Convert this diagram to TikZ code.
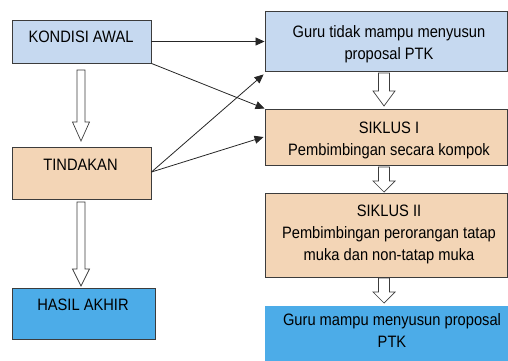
\documentclass[tikz,border=0pt]{standalone}
\usepackage{fontspec}
\setmainfont[FakeStretch=0.89]{Liberation Sans}
\usetikzlibrary{arrows.meta,calc}
\definecolor{lblue}{RGB}{198,217,240}
\definecolor{peach}{RGB}{243,213,182}
\definecolor{bblue}{RGB}{76,172,232}
\definecolor{edge}{RGB}{60,60,60}
\tikzset{
  box/.style={draw=edge,line width=0.9pt,inner sep=0pt,rectangle},
  lbl/.style={inner sep=0pt,align=center,font=\fontsize{16.5}{22}\selectfont},
  conn/.style={draw=black!85,line width=0.8pt,-{Triangle[length=9pt,width=8pt]}},
  hollow/.style={draw=edge,fill=white,line width=0.7pt,line join=miter}
}
% hollow block arrow: #1 x-centre, #2 top y, #3 head-start y, #4 tip y, #5 shaft half width, #6 head half width
\newcommand\hollowarr[6]{%
  \path[hollow] (#1-#5,#2) -- (#1+#5,#2) -- (#1+#5,#3) -- (#1+#6,#3) -- (#1,#4)
    -- (#1-#6,#3) -- (#1-#5,#3) -- cycle;}
\begin{document}
\begin{tikzpicture}[x=1pt,y=-1pt]
\useasboundingbox (0,0) rectangle (508,360);
\clip (0,0) rectangle (508,360);
% left column
\node[box,fill=lblue,minimum width=139pt,minimum height=43pt] (k) at (81.5,41.5) {};
\node[lbl] (kt) at (81,36.5) {KONDISI AWAL};
\node[box,fill=peach,minimum width=139pt,minimum height=52pt] (t) at (81.5,173) {};
\node[lbl] (tt) at (80.5,164.5) {TINDAKAN};
\node[box,fill=bblue,minimum width=143pt,minimum height=51pt] (h) at (83.5,313.5) {};
\node[lbl] (ht) at (83,305) {HASIL AKHIR};
% right column
\node[box,fill=lblue,minimum width=242pt,minimum height=60pt] (g1) at (386,41) {};
\node[lbl] (g1t) at (389,44) {Guru tidak mampu menyusun\\proposal PTK};
\node[box,fill=peach,minimum width=242pt,minimum height=56pt] (s1) at (386,137) {};
\node[lbl] (s1t) at (389,140) {SIKLUS I\\Pembimbingan secara kompok};
\node[box,fill=peach,minimum width=242pt,minimum height=84pt] (s2) at (386,235) {};
\node[lbl] (s2t) at (389,234) {SIKLUS II\\ Pembimbingan perorangan tatap\\muka dan non-tatap muka};
\node[box,fill=bblue,draw=none,minimum width=243pt,minimum height=60pt] (g2) at (386.5,336) {};
\node[lbl] (g2t) at (392,331) {Guru mampu menyusun proposal\\PTK};
% connectors
\draw[conn] (k.east) -- (k.east -| g1.west);
\draw[conn] (k.south east) -- (s1.north west);
\draw[conn] ($(t.east)+(0,-1)$) -- ($(g1.south west)+(-1,3)$);
\draw[conn] ($(t.east)+(0,-1)$) -- ($(s1.west)+(-1,0)$);
% hollow arrows
\hollowarr{81}{70}{122}{141}{4}{8.5}
\hollowarr{81}{202}{269}{286}{4}{8.5}
\hollowarr{384}{73}{91}{106}{5.5}{11}
\hollowarr{384}{167}{181}{192}{5.5}{11}
\hollowarr{384}{278}{292}{303}{5.5}{11}
\end{tikzpicture}
\end{document}
